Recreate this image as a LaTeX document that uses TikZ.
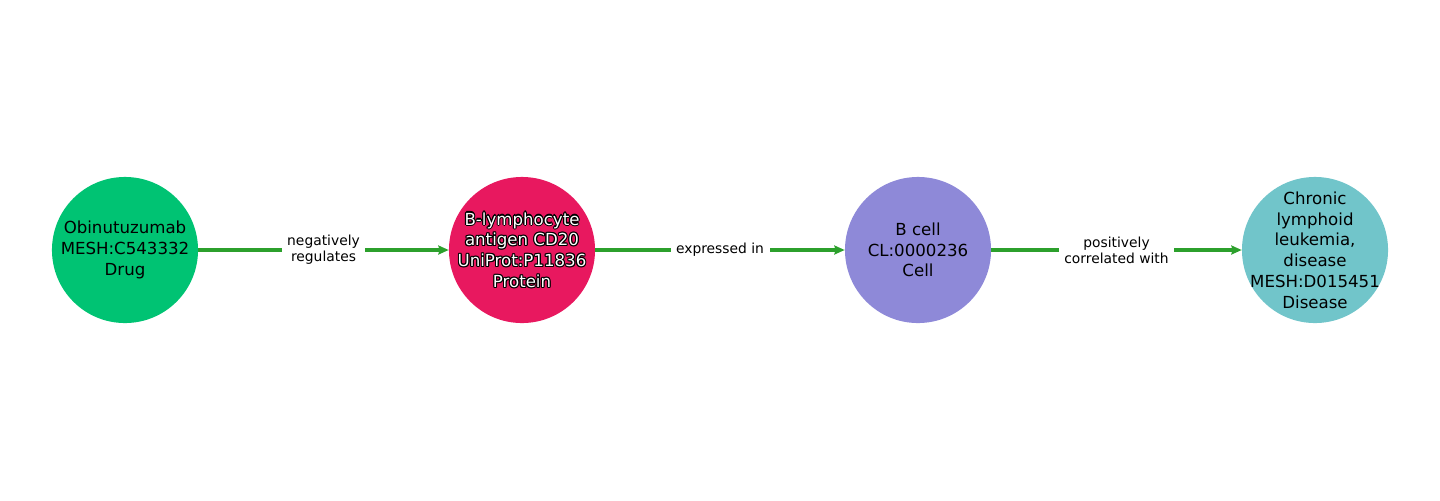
\documentclass[tikz,border=0pt]{standalone}
\usepackage{fontspec}
\setmainfont{DejaVu Sans}
\usetikzlibrary{arrows.meta}
\definecolor{cgreen}{HTML}{00C373}
\definecolor{cred}{HTML}{E8185F}
\definecolor{cpurple}{HTML}{8E89D8}
\definecolor{cteal}{HTML}{71C5CA}
\definecolor{edgegreen}{HTML}{2CA02C}
\newcommand{\outl}[1]{%
\begin{tikzpicture}[baseline=(t.base)]
\foreach \dx/\dy in {-0.8/0,0.8/0,0/-0.8,0/0.8,-0.6/-0.6,0.6/0.6,-0.6/0.6,0.6/-0.6}{
\node[inner sep=0,text=black,align=center,font=\fontsize{12}{15}\selectfont] at (\dx pt,\dy pt) {#1};}
\node[inner sep=0,text=white,align=center,font=\fontsize{12}{15}\selectfont] (t) at (0,0) {#1};
\end{tikzpicture}}
\begin{document}
\begin{tikzpicture}[x=0.01in,y=-0.01in,
  ent/.style={circle,minimum size=1.46in,inner sep=0},
  txt/.style={inner sep=0,align=center,font=\fontsize{12}{15}\selectfont},
  rel/.style={draw=edgegreen,line width=2.2pt,-{Stealth[length=7.5pt,width=6.5pt,inset=1pt]}},
  lab/.style={fill=white,inner sep=4pt,align=center,font=\fontsize{10}{11.5}\selectfont}]
\useasboundingbox (0,0) rectangle (1440,500);
\node[ent,fill=cgreen] (a) at (125,250) {};
\node[txt] (at) at (a.center) {Obinutuzumab\\MESH:C543332\\Drug};
\node[ent,fill=cred] (b) at (522,250) {};
\node[txt] (bt) at (b.center) {\outl{B-lymphocyte\\antigen CD20\\UniProt:P11836\\Protein}};
\node[ent,fill=cpurple] (c) at (918,250) {};
\node[txt] (ct) at (c.center) {B cell\\CL:0000236\\Cell};
\node[ent,fill=cteal] (d) at (1315,250) {};
\node[txt] (dt) at (d.center) {Chronic\\lymphoid\\leukemia,\\disease\\MESH:D015451\\Disease};
\draw[rel] (a) -- node[lab]{negatively\\regulates} (b);
\draw[rel] (b) -- node[lab]{expressed in} (c);
\draw[rel] (c) -- node[lab]{positively\\correlated with} (d);
\end{tikzpicture}
\end{document}
